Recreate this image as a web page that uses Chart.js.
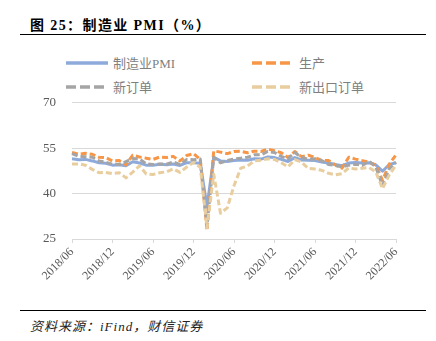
<!DOCTYPE html>
<html>
<head>
<meta charset="utf-8">
<script src="https://cdn.jsdelivr.net/npm/chart.js@4"></script>
<style>
  body { margin: 0; background: #fff; font-family: "Liberation Serif", "Noto Sans CJK SC", serif; }
  #wrap { position: relative; width: 436px; height: 341px; overflow: hidden; }
  .title { position: absolute; left: 30px; top: 14px; font-size: 14px; font-weight: bold; color: #000; letter-spacing: 1.4px; }
  .rule { position: absolute; left: 20px; width: 406px; height: 0; border-top: 1.5px solid #000; }
  .legend { position: absolute; font-size: 13px; color: #7f7f7f; display: flex; align-items: center; }
  .legend svg { margin-right: 5px; }
  .source { position: absolute; left: 30px; top: 316px; font-size: 13px; font-style: italic; color: #222; letter-spacing: 1px; }
  #box { position: absolute; left: 0; top: 79px; width: 436px; height: 231px; }
</style>
</head>
<body>
<div id="wrap">
  <div class="title">图 25：制造业 PMI（%）</div>
  <div class="rule" style="top:34px"></div>
  <div class="legend" style="left:66px; top:53px">
    <svg width="42" height="6"><line x1="0" y1="3" x2="42" y2="3" stroke="#8eaadb" stroke-width="3.5"/></svg>制造业PMI
  </div>
  <div class="legend" style="left:252px; top:53px">
    <svg width="42" height="6"><line x1="0" y1="3" x2="40" y2="3" stroke="#f79646" stroke-width="3.5" stroke-dasharray="10,4"/></svg>生产
  </div>
  <div class="legend" style="left:66px; top:77px">
    <svg width="42" height="6"><line x1="0" y1="3" x2="40" y2="3" stroke="#a5a5a5" stroke-width="3.5" stroke-dasharray="10,4"/></svg>新订单
  </div>
  <div class="legend" style="left:252px; top:77px">
    <svg width="42" height="6"><line x1="0" y1="3" x2="40" y2="3" stroke="#e8cd9e" stroke-width="3.5" stroke-dasharray="10,4"/></svg>新出口订单
  </div>
  <div id="box"><canvas id="chart"></canvas></div>
  <div class="rule" style="top:310px"></div>
  <div class="source">资料来源：iFind，财信证券</div>
</div>
<script>
// months 2018/06 .. 2022/06
const months = [
  "2018/06", "2018/07", "2018/08", "2018/09", "2018/10", "2018/11", "2018/12",
  "2019/01", "2019/02", "2019/03", "2019/04", "2019/05", "2019/06", "2019/07", "2019/08", "2019/09", "2019/10", "2019/11", "2019/12",
  "2020/01", "2020/02", "2020/03", "2020/04", "2020/05", "2020/06", "2020/07", "2020/08", "2020/09", "2020/10", "2020/11", "2020/12",
  "2021/01", "2021/02", "2021/03", "2021/04", "2021/05", "2021/06", "2021/07", "2021/08", "2021/09", "2021/10", "2021/11", "2021/12",
  "2022/01", "2022/02", "2022/03", "2022/04", "2022/05", "2022/06",
];
const tickLabels = ["2018/06", "2018/12", "2019/06", "2019/12", "2020/06", "2020/12", "2021/06", "2021/12", "2022/06"];

const pmi = [
  51.5, 51.2, 51.3, 50.8, 50.2, 50.0, 49.4,
  49.5, 49.2, 50.5, 50.1, 49.4, 49.4, 49.7, 49.5, 49.8, 49.3, 50.2, 50.2,
  50.0, 35.7, 52.0, 50.8, 50.6, 50.9, 51.1, 51.0, 51.5, 51.4, 52.1, 51.9,
  51.3, 50.6, 51.9, 51.1, 51.0, 50.9, 50.4, 50.1, 49.6, 49.2, 50.1, 50.3,
  50.1, 50.2, 49.5, 47.4, 49.6, 50.2,
];
const production = [
  53.6, 53.0, 53.3, 53.0, 52.0, 51.9, 50.8,
  50.9, 49.5, 52.7, 52.1, 51.7, 51.3, 52.1, 51.9, 52.3, 50.8, 52.6, 53.2,
  51.3, 27.8, 54.1, 53.7, 53.2, 53.9, 54.0, 53.5, 54.0, 53.9, 54.7, 54.2,
  53.5, 51.9, 53.9, 52.2, 52.7, 51.9, 51.0, 50.9, 49.5, 48.4, 52.0, 51.4,
  50.9, 50.4, 49.5, 44.4, 49.7, 52.8,
];
const newOrders = [
  53.2, 52.3, 52.2, 52.0, 50.8, 50.4, 49.7,
  49.6, 50.6, 51.6, 51.4, 49.8, 49.6, 49.8, 49.7, 50.5, 49.6, 51.3, 51.2,
  51.4, 29.3, 52.0, 50.2, 50.9, 51.4, 51.7, 52.0, 52.8, 52.8, 53.9, 53.6,
  52.3, 51.5, 53.6, 52.0, 51.3, 51.5, 50.9, 49.6, 49.3, 48.8, 49.4, 49.7,
  49.3, 50.7, 48.8, 42.6, 48.2, 50.4,
];
const exportOrders = [
  49.8, 49.8, 49.4, 48.0, 46.9, 47.0, 46.6,
  46.9, 45.2, 47.1, 49.2, 46.5, 46.3, 46.9, 47.2, 48.2, 47.0, 48.8, 50.3,
  48.7, 28.7, 46.4, 33.5, 35.3, 42.6, 48.4, 49.1, 50.8, 51.0, 51.5, 51.3,
  50.2, 48.8, 51.2, 50.4, 48.3, 48.1, 47.7, 46.7, 46.2, 46.6, 48.5, 48.1,
  48.4, 48.6, 47.2, 41.6, 46.2, 49.5,
];
const yTicks = [25, 40, 55, 70];

const serif = '"Liberation Serif", "Noto Sans CJK SC", serif';

new Chart(document.getElementById("chart"), {
  type: "line",
  data: {
    labels: months,
    datasets: [
      { label: "制造业PMI", data: pmi, borderColor: "#8eaadb", borderWidth: 3, order: 3 },
      { label: "生产", data: production, borderColor: "#f79646", borderWidth: 3, borderDash: [6, 3], order: 2 },
      { label: "新订单", data: newOrders, borderColor: "#a5a5a5", borderWidth: 3, borderDash: [6, 3], order: 1 },
      { label: "新出口订单", data: exportOrders, borderColor: "#e8cd9e", borderWidth: 3, borderDash: [6, 3], order: 0 },
    ],
  },
  options: {
    responsive: true,
    maintainAspectRatio: false,
    animation: false,
    elements: {
      point: { radius: 0 },
      line: { tension: 0, borderCapStyle: "butt", borderJoinStyle: "round" },
    },
    layout: { padding: { top: 0, right: 40, left: 0, bottom: 0 } },
    scales: {
      x: {
        afterFit: (s) => { s.height = 71; },
        grid: {
          drawOnChartArea: false,
          drawTicks: true,
          tickLength: 4,
          color: "#d9d9d9",
        },
        border: { color: "#d9d9d9" },
        ticks: {
          autoSkip: false,
          maxRotation: 45,
          minRotation: 45,
          padding: 2,
          color: "#595959",
          font: { family: serif, size: 12 },
          callback: function (value) {
            const lbl = this.getLabelForValue(value);
            return tickLabels.includes(lbl) ? lbl : null;
          },
        },
      },
      y: {
        min: 25,
        max: 70,
        afterFit: (s) => { s.width = 72; },
        afterBuildTicks: (s) => { s.ticks = yTicks.map((v) => ({ value: v })); },
        grid: { color: "#d9d9d9", drawTicks: false },
        border: { display: false },
        ticks: {
          padding: 16,
          color: "#595959",
          font: { family: serif, size: 13 },
        },
      },
    },
    plugins: {
      legend: { display: false },
      tooltip: { enabled: false },
    },
  },
});
</script>
</body>
</html>
